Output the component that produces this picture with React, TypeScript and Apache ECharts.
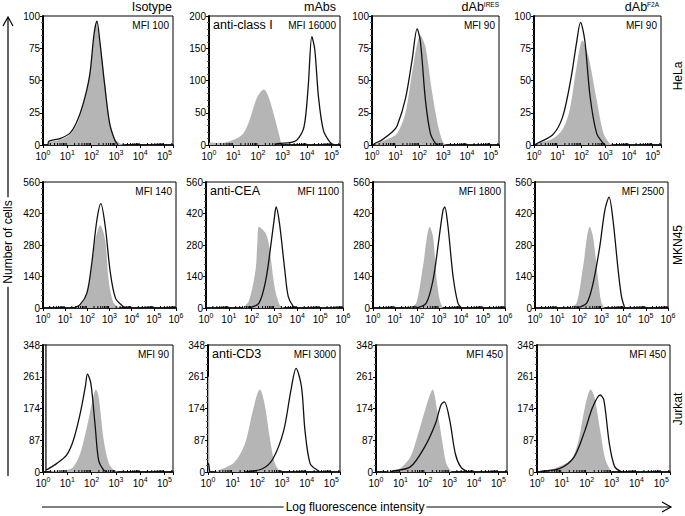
import React, { useEffect, useRef } from "react";
import * as echarts from "echarts";

// ---------- labels ----------
const COLUMN_TITLES = ["Isotype", "mAbs", "dAb{s|IRES}", "dAb{s|F2A}"];
const ROW_LABELS = ["HeLa", "MKN45", "Jurkat"];
const ANTIBODY_LABELS = ["anti-class I", "anti-CEA", "anti-CD3"];
const MFI_LABELS = [
  ["MFI 100", "MFI 16000", "MFI 90", "MFI 90"],
  ["MFI 140", "MFI 1100", "MFI 1800", "MFI 2500"],
  ["MFI 90", "MFI 3000", "MFI 450", "MFI 450"],
];
// y-axis max per panel (ticks at quarters)
const Y_MAX = [
  [100, 200, 100, 100],
  [560, 560, 560, 560],
  [348, 348, 348, 348],
];
// x-axis extent in decades (log10 of fluorescence)
const X_MAX = [5.35, 6, 5.35];
const LOG_MINOR = [2, 3, 4, 5, 6, 7, 8, 9];

// ---------- data: [log10 intensity, number of cells] ----------
// HeLa
const helaIsotypeFill = [[0.2,0],[0.25,2],[0.7,4],[1.1,8],[1.4,16],[1.65,30],[1.9,52],[2.05,76],[2.2,93],[2.35,80],[2.55,48],[2.75,18],[2.95,5],[3.2,1],[3.4,0]];
const helaIsotypeLine = [[0.2,0],[0.25,3],[0.7,5],[1.1,9],[1.37,17],[1.64,31],[1.92,54],[2.1,86],[2.22,96],[2.33,82],[2.53,48],[2.74,17],[2.95,4],[3.08,0]];
const helaMabFill = [[0,0],[0.02,4],[0.5,3],[1.0,8],[1.4,18],[1.65,38],[1.9,68],[2.1,82],[2.24,86],[2.43,75],[2.7,40],[2.88,13],[2.96,0]];
const helaMabLine = [[2.7,0],[2.8,2],[3.35,4],[3.6,8],[3.88,28],[4.05,90],[4.2,168],[4.32,148],[4.47,75],[4.67,23],[4.93,5],[5.13,0]];
const helaIresFill = [[0.1,0],[0.3,2],[0.7,5],[1.06,9],[1.41,25],[1.76,64],[2.04,85],[2.25,76],[2.54,40],[2.82,12],[3.03,1],[3.2,0]];
const helaIresLine = [[0.05,0],[0.1,1],[0.42,4],[0.85,10],[1.06,15],[1.41,36],[1.69,66],[1.9,90],[2.04,80],[2.25,35],[2.46,9],[2.68,1],[2.8,0]];
const helaF2aFill = [[0.1,0],[0.3,2],[0.8,5],[1.2,12],[1.5,27],[1.79,60],[2.04,81],[2.29,69],[2.64,35],[2.93,9],[3.21,1],[3.4,0]];
const helaF2aLine = [[0.05,0],[0.1,1],[0.79,8],[1.21,22],[1.57,53],[1.79,79],[1.96,95],[2.14,81],[2.36,38],[2.64,9],[2.93,1],[3.0,0]];
// MKN45
const mknIsotypeFill = [[1.4,0],[1.82,29],[2.13,140],[2.36,302],[2.58,368],[2.81,300],[2.96,125],[3.19,22],[3.5,0]];
const mknIsotypeLine = [[1.37,0],[1.67,15],[1.98,66],[2.2,199],[2.43,390],[2.61,464],[2.81,361],[3.04,155],[3.27,44],[3.57,10],[3.72,0]];
const mknMabFill = [[1.57,0],[1.87,29],[2.17,169],[2.25,290],[2.32,361],[2.62,331],[2.77,272],[3.0,96],[3.22,15],[3.45,0]];
const mknMabLine = [[1.87,0],[2.32,22],[2.62,125],[2.85,287],[3.0,405],[3.07,449],[3.22,375],[3.45,169],[3.6,52],[3.82,7],[3.97,0]];
const mknIresFill = [[1.67,0],[1.97,22],[2.27,184],[2.58,361],[2.73,316],[2.88,140],[3.03,37],[3.18,0]];
const mknIresLine = [[1.97,0],[2.42,22],[2.73,125],[2.95,272],[3.18,434],[3.26,449],[3.41,361],[3.64,140],[3.86,22],[4.02,0]];
const mknF2aFill = [[1.58,0],[1.88,22],[2.17,184],[2.47,361],[2.62,316],[2.85,125],[3.0,22],[3.15,0]];
const mknF2aLine = [[1.88,0],[2.33,22],[2.62,110],[2.92,272],[3.15,434],[3.34,493],[3.52,390],[3.75,169],[3.9,52],[4.05,0]];
// Jurkat
const jurkatIsotypeFill = [[0.25,0],[0.35,2],[1.0,6],[1.25,14],[1.53,50],[1.81,124],[2.01,188],[2.18,226],[2.29,206],[2.5,87],[2.71,23],[2.92,5],[3.13,0]];
const jurkatIsotypeLine = [[0.12,6],[0.2,8],[0.56,23],[0.97,46],[1.25,87],[1.53,160],[1.74,233],[1.83,268],[1.97,243],[2.15,124],[2.29,32],[2.5,5],[2.64,0]];
const jurkatIsotypeSpikeLine = [[0,0],[0,400],[0.12,400],[0.12,0]];
const jurkatMabFill = [[0.2,0],[0.36,3],[1.07,27],[1.5,78],[1.79,160],[2.0,215],[2.1,226],[2.29,188],[2.5,96],[2.71,23],[2.93,0]];
const jurkatMabLine = [[1.5,0],[2.21,9],[2.64,37],[3.07,114],[3.36,224],[3.57,284],[3.79,233],[3.93,114],[4.14,23],[4.43,5],[4.57,0]];
const jurkatMabSpikeFill = [[0,261],[0.05,261],[0.06,0]];
const jurkatMabSpikeLine = [[0,25],[0.03,20],[0.07,0]];
const jurkatIresFill = [[0.4,0],[0.51,2],[0.96,9],[1.4,41],[1.76,114],[2.13,197],[2.31,226],[2.5,169],[2.72,78],[2.87,23],[3.09,0]];
const jurkatIresLine = [[0.6,0],[0.66,2],[1.4,14],[1.99,69],[2.43,133],[2.65,183],[2.79,192],[3.01,142],[3.24,50],[3.46,14],[3.75,0]];
const jurkatF2aFill = [[0.4,0],[0.45,2],[1.34,32],[1.64,78],[1.93,178],[2.16,226],[2.31,206],[2.54,114],[2.76,32],[3.0,0]];
const jurkatF2aLine = [[0.1,0],[0.15,2],[0.9,9],[1.49,41],[1.93,114],[2.24,178],[2.54,211],[2.69,197],[2.91,78],[3.13,14],[3.43,0]];

const FILLS = [
  [helaIsotypeFill, helaMabFill, helaIresFill, helaF2aFill],
  [mknIsotypeFill, mknMabFill, mknIresFill, mknF2aFill],
  [jurkatIsotypeFill, jurkatMabFill, jurkatIresFill, jurkatF2aFill],
];
const LINES = [
  [helaIsotypeLine, helaMabLine, helaIresLine, helaF2aLine],
  [mknIsotypeLine, mknMabLine, mknIresLine, mknF2aLine],
  [jurkatIsotypeLine, jurkatMabLine, jurkatIresLine, jurkatF2aLine],
];
// off-scale pile-up at the lowest channel (panel index -> data)
const SPIKE_FILLS: Record<number, number[][]> = { 9: jurkatMabSpikeFill };
const SPIKE_LINES: Record<number, number[][]> = { 8: jurkatIsotypeSpikeLine, 9: jurkatMabSpikeLine };

// ---------- layout (px) ----------
const ROW_TOP = [16, 182, 345];
const ROW_HEIGHT = [129, 126, 127];
const COL_RECTS = [
  [[43, 130], [209, 131], [372, 127], [534, 127]],
  [[43, 133], [206, 137], [373, 132], [535, 133]],
  [[43, 130], [208, 132], [376, 131], [537, 133]],
];

const FONT = "'Liberation Sans', Arial, Helvetica, sans-serif";
const GRAY = "#b5b5b5";

export default function App() {
  const ref = useRef<HTMLDivElement>(null);
  useEffect(() => {
    if (!ref.current) return;
    const chart = echarts.init(ref.current, undefined, { renderer: "svg" });

    const grid: any[] = [];
    const xAxis: any[] = [];
    const yAxis: any[] = [];
    const series: any[] = [];
    const graphic: any[] = [];

    for (let r = 0; r < 3; r++) {
      for (let c = 0; c < 4; c++) {
        const idx = r * 4 + c;
        const [left, width] = COL_RECTS[r][c];
        const top = ROW_TOP[r];
        const height = ROW_HEIGHT[r];
        grid.push({ left, top, width, height, show: true, borderColor: "#000", borderWidth: 1, backgroundColor: "#fff" });
        const xmax = X_MAX[r];
        xAxis.push({
          gridIndex: idx,
          type: "value",
          min: 0,
          max: xmax,
          interval: 1,
          axisLine: { show: true, onZero: false, lineStyle: { color: "#000", width: 1.5 } },
          axisTick: { show: true, length: 3, lineStyle: { color: "#000" } },
          splitLine: { show: false },
          axisLabel: {
            color: "#000",
            margin: 4,
            fontFamily: FONT,
            showMaxLabel: true,
            formatter: (v: number) =>
              Math.abs(v - Math.round(v)) < 1e-6 ? `{b|10}{s|${Math.round(v)}}` : "",
            rich: {
              b: { fontSize: 10, fontFamily: FONT, color: "#000", verticalAlign: "bottom" },
              s: { fontSize: 7, fontFamily: FONT, color: "#000", verticalAlign: "top", padding: [0, 0, 5, 0] },
            },
          },
        });
        const ymax = Y_MAX[r][c];
        yAxis.push({
          gridIndex: idx,
          type: "value",
          min: 0,
          max: ymax,
          interval: ymax / 4,
          axisLine: { show: true, lineStyle: { color: "#000", width: 2 } },
          axisTick: { show: true, length: 3, lineStyle: { color: "#000" } },
          minorTick: { show: true, splitNumber: 5, length: 2, lineStyle: { color: "#555" } },
          splitLine: { show: false },
          axisLabel: { color: "#000", fontSize: 10, fontFamily: FONT, margin: 3 },
        });
        series.push({
          type: "line",
          xAxisIndex: idx,
          yAxisIndex: idx,
          data: FILLS[r][c],
          symbol: "none",
          smooth: 0.3,
          lineStyle: { width: 0 },
          areaStyle: { color: GRAY, opacity: 1 },
          z: 2,
          silent: true,
        });
        if (SPIKE_FILLS[idx]) {
          series.push({
            type: "line",
            xAxisIndex: idx,
            yAxisIndex: idx,
            data: SPIKE_FILLS[idx],
            symbol: "none",
            lineStyle: { width: 0 },
            areaStyle: { color: GRAY, opacity: 1 },
            z: 2,
            silent: true,
          });
        }
        series.push({
          type: "line",
          xAxisIndex: idx,
          yAxisIndex: idx,
          data: LINES[r][c],
          symbol: "none",
          smooth: 0.3,
          lineStyle: { color: "#111", width: 1.3 },
          z: 3,
          silent: true,
        });
        if (SPIKE_LINES[idx]) {
          series.push({
            type: "line",
            xAxisIndex: idx,
            yAxisIndex: idx,
            data: SPIKE_LINES[idx],
            symbol: "none",
            lineStyle: { color: "#111", width: 1.3 },
            z: 3,
            silent: true,
          });
        }
        // log minor ticks on x axis
        const minor: number[][] = [];
        for (let d = 0; d < Math.ceil(xmax); d++) {
          for (const k of LOG_MINOR) {
            const v = d + Math.log10(k);
            if (v < xmax) minor.push([v, 0]);
          }
        }
        series.push({
          type: "custom",
          xAxisIndex: idx,
          yAxisIndex: idx,
          data: minor,
          silent: true,
          z: 4,
          renderItem: (_p: any, api: any) => {
            const pt = api.coord([api.value(0), 0]);
            return {
              type: "line",
              shape: { x1: pt[0], y1: pt[1], x2: pt[0], y2: pt[1] - 2 },
              style: { stroke: "#000", lineWidth: 1 },
            };
          },
        });
        // MFI label
        graphic.push({
          type: "text",
          x: left + width - 4,
          y: top + 9,
          style: { text: MFI_LABELS[r][c], font: `10px ${FONT}`, fill: "#000", align: "right", textAlign: "right", verticalAlign: "middle", textVerticalAlign: "middle" },
        });
        if (c === 1) {
          graphic.push({
            type: "text",
            x: left + 4,
            y: top + 9,
            style: { text: ANTIBODY_LABELS[r], font: `12.5px ${FONT}`, fill: "#000", align: "left", textAlign: "left", verticalAlign: "middle", textVerticalAlign: "middle" },
          });
        }
      }
    }

    // column titles
    const titleRight = [172, 336, 499, 659];
    COLUMN_TITLES.forEach((t, i) => {
      graphic.push({
        type: "text",
        x: titleRight[i],
        y: 7,
        style: {
          text: t,
          font: `12.5px ${FONT}`,
          fill: "#000",
          align: "right",
          textAlign: "right",
          verticalAlign: "middle",
          textVerticalAlign: "middle",
          rich: { s: { fontSize: 6.5, fontFamily: FONT, fill: "#000", verticalAlign: "top", padding: [0, 0, 6, 0] } },
        },
      });
    });
    // row labels
    const rowY = [76, 245, 409];
    ROW_LABELS.forEach((t, i) => {
      graphic.push({
        type: "text",
        x: 678,
        y: rowY[i],
        rotation: Math.PI / 2,
        style: { text: t, font: `12px ${FONT}`, fill: "#000", align: "center", textAlign: "center", verticalAlign: "middle", textVerticalAlign: "middle" },
      });
    });
    // y arrow
    graphic.push({ type: "line", shape: { x1: 8, y1: 18, x2: 8, y2: 476 }, style: { stroke: "#000", lineWidth: 1.2 } });
    graphic.push({ type: "polyline", shape: { points: [[3, 26], [8, 17], [13, 26]] }, style: { stroke: "#000", lineWidth: 1.2, fill: "none" } });
    graphic.push({
      type: "text",
      x: 8,
      y: 242,
      rotation: Math.PI / 2,
      style: { text: "Number of cells", font: `12px ${FONT}`, fill: "#000", align: "center", textAlign: "center", verticalAlign: "middle", textVerticalAlign: "middle", backgroundColor: "#fff", padding: [0, 3] },
    });
    // x arrow
    graphic.push({ type: "line", shape: { x1: 42, y1: 507, x2: 671, y2: 507 }, style: { stroke: "#000", lineWidth: 1.2 } });
    graphic.push({ type: "polyline", shape: { points: [[662, 502], [671, 507], [662, 512]] }, style: { stroke: "#000", lineWidth: 1.2, fill: "none" } });
    graphic.push({
      type: "text",
      x: 355,
      y: 507,
      style: { text: "Log fluorescence intensity", font: `12px ${FONT}`, fill: "#000", align: "center", textAlign: "center", verticalAlign: "middle", textVerticalAlign: "middle", backgroundColor: "#fff", padding: [0, 2] },
    });

    chart.setOption({
      animation: false,
      backgroundColor: "#fff",
      grid,
      xAxis,
      yAxis,
      series,
      graphic,
    });
    return () => chart.dispose();
  }, []);
  return <div ref={ref} style={{ position: "absolute", left: 0, top: 0, width: 685, height: 516 }} />;
}
